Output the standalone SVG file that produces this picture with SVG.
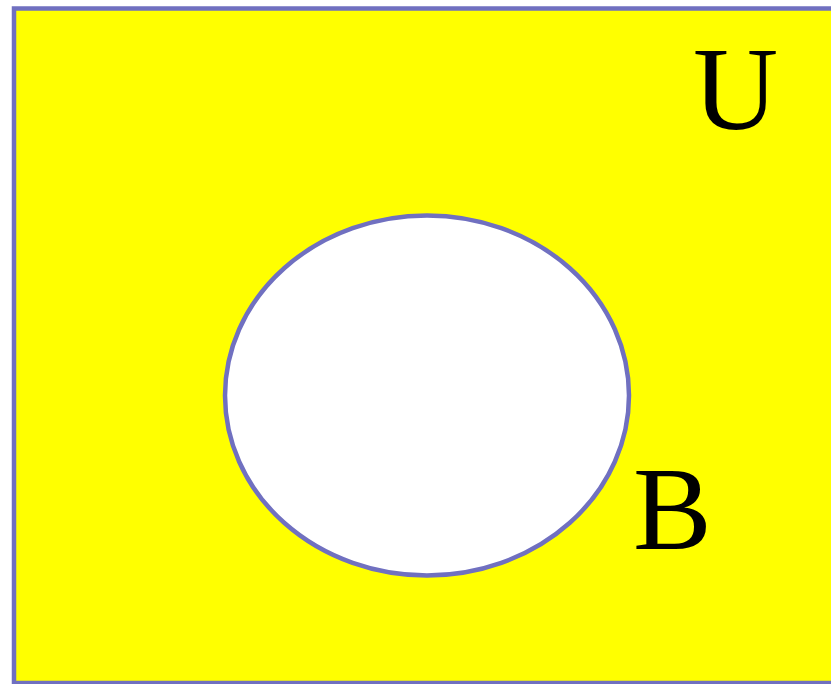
<svg xmlns="http://www.w3.org/2000/svg" width="831" height="684" viewBox="0 0 831 684">
<style>
.lbl{font-family:"Liberation Serif","Times New Roman",serif;font-size:118px;fill:#000}
.edge{stroke:#7070c0;stroke-width:4.5}
</style>
<rect width="831" height="684" fill="#fff"/>
<g id="U">
<rect class="edge" x="14" y="8.5" width="830" height="674.5" fill="#ffff00"/>
<text class="lbl" x="693" y="129">U</text>
</g>
<g id="B">
<ellipse class="edge" cx="427" cy="395.5" rx="202" ry="180" fill="#fff"/>
<text class="lbl" x="633" y="549">B</text>
</g>
<g id="connectors"/>
</svg>
